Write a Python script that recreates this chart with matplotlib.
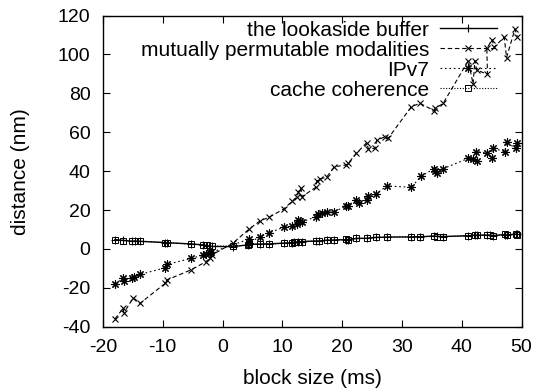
import matplotlib
matplotlib.use("Agg")
import matplotlib.pyplot as plt

# series
lb_x = [-18.0, -16.6, -15.2, -14.6, -13.8, -9.6, -9.3, -5.3, -3.2, -2.6, -1.8, 1.7, 4.3, 4.4,
        6.3, 7.8, 10.2, 11.7, 12.0, 12.6, 13.3, 15.7, 16.2, 17.4, 18.7, 20.7, 21.0, 22.4, 24.1,
        25.6, 27.5, 31.6, 33.1, 35.4, 35.8, 36.9, 41.1, 42.2, 42.6, 44.2, 44.8, 45.3, 47.2,
        47.5, 49.0, 49.3]
lb_y = [4.8, 4.4, 4.0, 4.1, 3.9, 3.3, 3.2, 2.6, 2.1, 1.7, 1.3, 1.2, 2.1, 2.4,
        2.5, 2.6, 3.0, 3.2, 3.6, 3.6, 3.8, 4.1, 4.1, 4.5, 4.6, 4.8, 4.8, 5.4, 5.5,
        5.9, 6.1, 6.2, 6.3, 6.6, 6.5, 6.4, 6.8, 7.1, 7.1, 7.1, 7.1, 6.9, 7.4,
        7.2, 7.6, 7.5]

mpm_x = [-18.0, -16.6, -16.5, -14.9, -13.8, -9.6, -9.35, -5.3, -2.8, -2.1, -1.8, 1.7,
         4.4, 6.3, 7.8, 10.2, 11.7, 12.5, 12.7, 13.1, 13.3, 15.6, 15.8, 16.3, 17.4, 18.7,
         20.7, 21.0, 22.4, 24.1, 24.4, 25.5, 25.8, 27.2, 27.7, 31.6, 33.0, 35.4, 35.6,
         36.9, 41.1, 41.9, 42.2, 42.5, 44.3, 44.2, 45.1, 45.4, 47.1, 47.5, 48.9, 49.3]
mpm_y = [-36.0, -30.5, -32.8, -25.1, -28.0, -17.7, -16.0, -10.8, -6.6, -4.8, -3.1, 2.9,
         10.1, 14.5, 16.3, 20.5, 24.7, 26.9, 29.4, 31.2, 26.9, 31.7, 35.0, 36.0, 36.9, 42.3,
         43.2, 44.0, 49.2, 54.6, 51.4, 51.8, 56.0, 57.7, 56.9, 73.2, 74.9, 71.1, 72.3,
         74.9, 96.8, 84.8, 96.8, 92.0, 89.8, 103.2, 107.5, 103.7, 108.9, 98.4, 113.1, 109.2]

ipv7_x = [-18.0, -16.6, -16.5, -15.2, -14.8, -13.8, -9.6, -9.2, -5.2, -3.2, -2.7, -2.1,
          -1.9, 4.4, 4.4, 6.3, 7.8, 10.2, 11.7, 12.4, 12.6, 13.0, 13.3, 15.7, 15.9, 16.6,
          17.4, 18.7, 20.7, 21.0, 22.4, 22.8, 24.1, 24.4, 25.6, 27.5, 31.6, 33.2, 35.3,
          35.5, 35.8, 36.9, 41.1, 41.9, 42.6, 42.4, 44.2, 45.1, 45.3, 47.2, 47.5, 49.0, 49.3]
ipv7_y = [-18.0, -15.1, -16.3, -14.8, -14.6, -13.1, -9.7, -7.9, -4.8, -3.1, -2.6, -2.2,
          -1.8, 5.0, 3.2, 6.3, 8.4, 11.1, 11.8, 12.7, 14.9, 14.5, 14.0, 16.6, 17.8, 18.3,
          18.8, 19.2, 22.1, 22.3, 25.2, 23.5, 25.2, 27.2, 28.1, 32.4, 31.7, 37.5, 41.0,
          40.0, 39.2, 41.3, 46.6, 46.1, 45.2, 50.0, 49.5, 46.6, 51.8, 50.0, 54.8, 51.8, 54.6]

cc_x = lb_x
cc_y = [4.6, 4.2, 4.1, 4.0, 4.1, 3.2, 3.3, 2.5, 2.0, 1.8, 1.5, 1.5, 2.0, 2.6,
        2.4, 2.5, 2.9, 3.3, 3.7, 3.5, 3.7, 4.2, 4.0, 4.6, 4.5, 4.9, 4.7, 5.5, 5.4,
        6.0, 6.0, 6.3, 6.2, 6.7, 6.4, 6.3, 6.7, 7.2, 7.0, 7.2, 7.0, 6.8, 7.5,
        7.1, 7.7, 7.4]

labels = ["the lookaside buffer", "mutually permutable modalities", "IPv7", "cache coherence"]

plt.rcParams['font.family'] = ['Liberation Sans', 'DejaVu Sans']
plt.rcParams['axes.unicode_minus'] = False

fig = plt.figure(figsize=(5.36, 3.89), dpi=100)
ax = fig.add_axes([0.192, 0.160, 0.781, 0.800])

ax.plot(lb_x, lb_y, color='black', lw=1.0, ls='-', marker='+', ms=6, mew=0.8, label=labels[0])
ax.plot(mpm_x, mpm_y, color='black', lw=0.8, ls=(0, (4, 2.5)), marker='x', ms=5, mew=0.8,
        label=labels[1])
ax.plot(ipv7_x, ipv7_y, color='black', lw=0.8, ls=(0, (1.5, 2.5)), marker=(8, 2, 0), ms=6,
        mew=0.8, label=labels[2])
ax.plot(cc_x, cc_y, color='black', lw=0.8, ls=(0, (1, 1.5)), marker='s', ms=5, mew=0.7,
        mfc='none', label=labels[3])

ax.set_xlim(-20, 50)
ax.set_ylim(-40, 120)
ax.set_xticks(range(-20, 51, 10))
ax.set_yticks(range(-40, 121, 20))
ax.tick_params(direction='in', length=5, width=0.8, top=True, right=True,
               labelsize=14, pad=9)
for s in ax.spines.values():
    s.set_linewidth(1.0)

ax.set_xlabel("block size (ms)", fontsize=15, labelpad=9)
ax.set_ylabel("distance (nm)", fontsize=15, labelpad=20)

ax.legend(loc='upper right', bbox_to_anchor=(0.941, 0.984), frameon=False,
          markerfirst=False, fontsize=15, labelspacing=0.05, handlelength=2.73,
          handletextpad=0.53, borderaxespad=0.0, borderpad=0.0)

fig.savefig("out.png", dpi=100)
